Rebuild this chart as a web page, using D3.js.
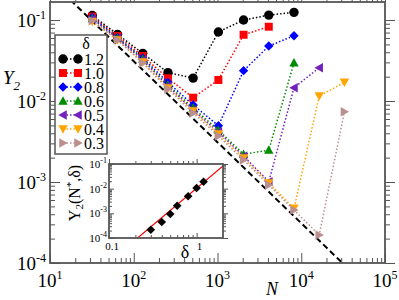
<!DOCTYPE html>
<html>
<head>
<meta charset="utf-8">
<script src="https://cdn.jsdelivr.net/npm/d3@7"></script>
<style>
body { margin: 0; background: #fff; }
svg { display: block; }
text { font-family: "Liberation Serif", "DejaVu Serif", serif; fill: #000; }
</style>
</head>
<body>
<div id="chart"></div>
<script>
// system sizes N (x axis)
var sizes = [32, 64, 128, 256, 512, 1024, 2048, 4096, 8192, 16384, 32768];

// Y2 for each delta, starting at N = 32
var delta12 = [0.1136, 0.0666, 0.0388, 0.0224, 0.0192, 0.0711, 0.1, 0.115, 0.1245];
var delta10 = [0.1104, 0.0634, 0.036, 0.0191, 0.011, 0.0182, 0.0658, 0.0827];
var delta08 = [0.1074, 0.0608, 0.034, 0.017, 0.00893, 0.00496, 0.0237, 0.0477, 0.064];
var delta06 = [0.1043, 0.06, 0.033, 0.0158, 0.0082, 0.00438, 0.0022, 0.00248, 0.0297];
var delta05 = [0.1029, 0.0591, 0.0321, 0.0153, 0.00775, 0.00414, 0.00209, 0.00101, 0.0146, 0.0258];
var delta04 = [0.096, 0.0567, 0.0303, 0.0145, 0.00753, 0.00392, 0.00198, 0.000973, 0.000473, 0.0115, 0.017];
var delta03 = [0.098, 0.0567, 0.0294, 0.0141, 0.00711, 0.0037, 0.00187, 0.000919, 0.000451, 0.000222, 0.00738];

var legendLabels = ["1.2", "1.0", "0.8", "0.6", "0.5", "0.4", "0.3"];
var seriesColors = ["#000000", "#ff0000", "#0000ff", "#008b00", "#7221bc", "#ffa500", "#bc8f8f"];
var seriesShapes = ["circle", "square", "diamond", "up", "left", "down", "right"];
var seriesValues = [delta12, delta10, delta08, delta06, delta05, delta04, delta03];

// inset: Y2(N*, delta)
var insetDelta = [0.3, 0.4, 0.5, 0.6, 0.8, 1.0, 1.2];
var insetY = [0.000217, 0.000445, 0.00094, 0.00204, 0.00491, 0.0106, 0.0192];

// tick exponents
var xExponents = [1, 2, 3, 4, 5];
var yExponents = [-1, -2, -3, -4];
var insetYExponents = [-1, -2, -3, -4];
var insetXTicks = ["0.1", "1"];

// fitted lines
var asymCoef = 3.1;      // Y2 = asymCoef / N
var fitCoef = 0.0105;    // Y2* = fitCoef * delta^3
var fitPow = 3;

var chart_width = 399;
var chart_height = 300;
var frameColor = "#555";

var svg = d3.select('#chart')
    .append('svg')
    .attr('width', chart_width)
    .attr('height', chart_height);

var x = d3.scaleLog().domain([10, 1e5]).range([50, 385]);
var y = d3.scaleLog().domain([1e-4, 0.167]).range([263, 2]);

function minorTicks(lo, hi) {
    var out = [];
    for (var e = Math.floor(Math.log10(lo)); e <= Math.ceil(Math.log10(hi)); e++) {
        for (var k = 2; k <= 9; k++) {
            var v = k * Math.pow(10, e);
            if (v > lo && v < hi) out.push(v);
        }
    }
    return out;
}

function shapePath(type, s) {
    if (type == "circle") return d3.symbol(d3.symbolCircle, Math.PI * s * s)();
    if (type == "square") return "M" + (-s * 0.85) + "," + (-s * 0.85) + "H" + (s * 0.85) + "V" + (s * 0.85) + "H" + (-s * 0.85) + "Z";
    if (type == "diamond") return "M0," + (-s) + "L" + s + ",0L0," + s + "L" + (-s) + ",0Z";
    if (type == "up") return "M0," + (-s) + "L" + s + "," + (s * 0.8) + "L" + (-s) + "," + (s * 0.8) + "Z";
    if (type == "down") return "M0," + s + "L" + s + "," + (-s * 0.8) + "L" + (-s) + "," + (-s * 0.8) + "Z";
    if (type == "left") return "M" + (-s) + ",0L" + (s * 0.8) + "," + (-s) + "L" + (s * 0.8) + "," + s + "Z";
    return "M" + s + ",0L" + (-s * 0.8) + "," + (-s) + "L" + (-s * 0.8) + "," + s + "Z";
}

// draw ticks on all four sides of a box, inward
function drawFrame(g, xs, ys, xMajor, yMajor, majLen, minLen) {
    var r = xs.range(), rr = ys.range();
    var xMinor = minorTicks(xs.domain()[0], xs.domain()[1]);
    var yMinor = minorTicks(ys.domain()[0], ys.domain()[1]);
    [[d3.axisBottom, rr[0], -1], [d3.axisTop, rr[1], 1]].forEach(function (a) {
        [[xMajor, majLen], [xMinor, minLen]].forEach(function (t) {
            var ax = g.append('g').attr('transform', 'translate(0,' + a[1] + ')')
                .call(a[0](xs).tickValues(t[0]).tickSize(a[2] * t[1]).tickFormat(''));
            ax.select('.domain').remove();
            ax.selectAll('line').attr('stroke', frameColor).attr('stroke-width', 1);
        });
    });
    [[d3.axisLeft, r[0], -1], [d3.axisRight, r[1], 1]].forEach(function (a) {
        [[yMajor, majLen], [yMinor, minLen]].forEach(function (t) {
            var ax = g.append('g').attr('transform', 'translate(' + a[1] + ',0)')
                .call(a[0](ys).tickValues(t[0]).tickSize(a[2] * t[1]).tickFormat(''));
            ax.select('.domain').remove();
            ax.selectAll('line').attr('stroke', frameColor).attr('stroke-width', 1);
        });
    });
    g.append('rect')
        .attr('x', r[0]).attr('y', rr[1])
        .attr('width', r[1] - r[0]).attr('height', rr[0] - rr[1])
        .attr('fill', 'none').attr('stroke', frameColor).attr('stroke-width', 1.8);
}

svg.append('clipPath').attr('id', 'mainclip')
    .append('rect').attr('x', 50).attr('y', 2).attr('width', 335).attr('height', 261);

var plot = svg.append('g').attr('clip-path', 'url(#mainclip)');

// asymptote Y2 ~ 1/N
plot.append('path')
    .datum(x.domain().map(function (n) { return { n: n, v: asymCoef / n }; }))
    .attr('d', d3.line().x(function (d) { return x(d.n); }).y(function (d) { return y(d.v); }))
    .attr('stroke', '#000')
    .attr('stroke-width', 2)
    .attr('stroke-dasharray', '6,3.5')
    .attr('fill', 'none');

var line = d3.line().x(function (d) { return x(d.n); }).y(function (d) { return y(d.v); });

seriesValues.forEach(function (vals, i) {
    var pts = vals.map(function (v, j) { return { n: sizes[j], v: v }; });
    plot.append('path')
        .datum(pts)
        .attr('d', line)
        .attr('stroke', seriesColors[i])
        .attr('stroke-width', 1.5)
        .attr('stroke-dasharray', '1.5,2')
        .attr('fill', 'none');
    plot.selectAll(null)
        .data(pts)
        .enter()
        .append('path')
        .attr('d', shapePath(seriesShapes[i], 4.7))
        .attr('transform', function (d) { return 'translate(' + x(d.n) + ',' + y(d.v) + ')'; })
        .attr('fill', seriesColors[i]);
});

drawFrame(svg.append('g'), x, y,
    xExponents.map(function (e) { return Math.pow(10, e); }),
    yExponents.map(function (e) { return Math.pow(10, e); }), 10, 5);

// main tick labels
var xl = svg.selectAll(null).data(xExponents).enter().append('text')
    .attr('x', function (e) { return x(Math.pow(10, e)); })
    .attr('y', 287)
    .attr('text-anchor', 'middle')
    .attr('font-size', 19)
    .text('10');
xl.append('tspan').attr('font-size', 12).attr('dy', -8).text(function (e) { return e; });

var yl = svg.selectAll(null).data(yExponents).enter().append('text')
    .attr('x', 46)
    .attr('y', function (e) { return y(Math.pow(10, e)) + 7; })
    .attr('text-anchor', 'end')
    .attr('font-size', 19)
    .text('10');
yl.append('tspan').attr('font-size', 12).attr('dy', -8).text(function (e) { return e; });

var ylab = svg.append('text')
    .attr('x', 3).attr('y', 84)
    .attr('font-size', 19)
    .attr('font-style', 'italic')
    .text('Y');
ylab.append('tspan').attr('font-size', 13).attr('dy', 6).text('2');

svg.append('text')
    .attr('x', 272).attr('y', 295)
    .attr('text-anchor', 'middle')
    .attr('font-size', 18)
    .attr('font-style', 'italic')
    .text('N');

// legend
var leg = svg.append('g');
leg.append('rect')
    .attr('x', 55).attr('y', 35).attr('width', 52).attr('height', 119)
    .attr('fill', '#fff').attr('stroke', frameColor).attr('stroke-width', 1.5);
leg.append('text')
    .attr('x', 86).attr('y', 49)
    .attr('text-anchor', 'middle')
    .attr('font-size', 16)
    .text('δ');
legendLabels.forEach(function (lab, i) {
    var ry = 59 + i * 14;
    leg.append('line')
        .attr('x1', 63).attr('x2', 78).attr('y1', ry).attr('y2', ry)
        .attr('stroke', seriesColors[i]).attr('stroke-width', 1.5)
        .attr('stroke-dasharray', '1.5,2');
    [63, 78].forEach(function (mx) {
        leg.append('path')
            .attr('d', shapePath(seriesShapes[i], 4.7))
            .attr('transform', 'translate(' + mx + ',' + ry + ')')
            .attr('fill', seriesColors[i]);
    });
    leg.append('text')
        .attr('x', 84).attr('y', ry + 5.5)
        .attr('font-size', 16)
        .text(lab);
});

// inset
var ix = d3.scaleLog().domain([0.1, 2]).range([109, 223]);
var iy = d3.scaleLog().domain([1e-4, 0.1]).range([238, 164]);

var inset = svg.append('g');
inset.append('rect')
    .attr('x', 109).attr('y', 164).attr('width', 114).attr('height', 74)
    .attr('fill', '#fff');

svg.append('clipPath').attr('id', 'insetclip')
    .append('rect').attr('x', 109).attr('y', 164).attr('width', 114).attr('height', 74);

inset.append('path')
    .datum(ix.domain().map(function (d) { return { d: d, v: fitCoef * Math.pow(d, fitPow) }; }))
    .attr('clip-path', 'url(#insetclip)')
    .attr('d', d3.line().x(function (d) { return ix(d.d); }).y(function (d) { return iy(d.v); }))
    .attr('stroke', '#ff0000')
    .attr('stroke-width', 1.2)
    .attr('fill', 'none');

inset.selectAll(null)
    .data(insetDelta)
    .enter()
    .append('path')
    .attr('d', shapePath('diamond', 4.3))
    .attr('transform', function (d, i) { return 'translate(' + ix(d) + ',' + iy(insetY[i]) + ')'; })
    .attr('fill', '#000');

drawFrame(inset.append('g'), ix, iy, [0.1, 1],
    insetYExponents.map(function (e) { return Math.pow(10, e); }), 5, 3);

var iyl = inset.selectAll(null).data(insetYExponents).enter().append('text')
    .attr('x', 107)
    .attr('y', function (e) { return iy(Math.pow(10, e)) + 4; })
    .attr('text-anchor', 'end')
    .attr('font-size', 11)
    .text('10');
iyl.append('tspan').attr('font-size', 8).attr('dy', -5).text(function (e) { return e; });

inset.selectAll(null).data(insetXTicks).enter().append('text')
    .attr('x', function (t) { return ix(+t) + 3; })
    .attr('y', 250)
    .attr('text-anchor', 'middle')
    .attr('font-size', 11)
    .text(function (t) { return t; });

inset.append('text')
    .attr('x', 185).attr('y', 258)
    .attr('text-anchor', 'middle')
    .attr('font-size', 18)
    .text('δ');

var iylab = inset.append('text')
    .attr('transform', 'translate(80,193) rotate(-90)')
    .attr('text-anchor', 'middle')
    .attr('font-size', 16)
    .text('Y');
iylab.append('tspan').attr('font-size', 11).attr('dy', 3).text('2');
iylab.append('tspan').attr('dy', -3).text('(N');
iylab.append('tspan').attr('font-size', 11).attr('dy', -6).text('*');
iylab.append('tspan').attr('dy', 6).text(',δ)');
</script>
</body>
</html>
